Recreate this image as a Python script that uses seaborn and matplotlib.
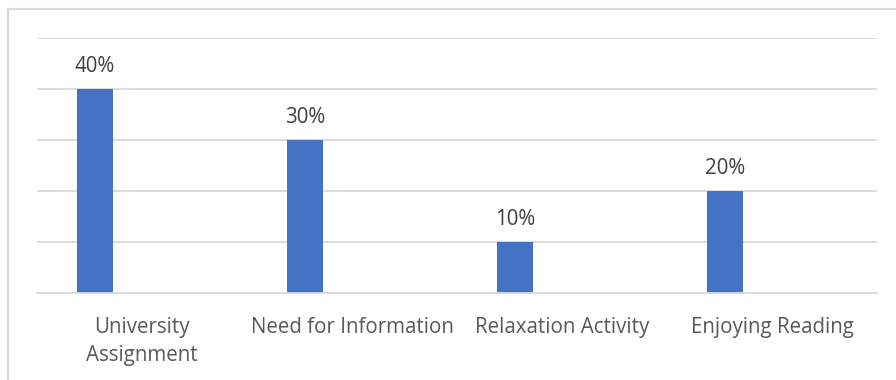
import matplotlib
matplotlib.use("Agg")
import matplotlib.pyplot as plt
import seaborn as sns
from matplotlib.patches import Rectangle
from matplotlib.ticker import MultipleLocator

categories = ["University Assignment", "Need for Information", "Relaxation Activity", "Enjoying Reading"]
tick_labels = ["University\nAssignment", "Need for Information", "Relaxation Activity", "Enjoying Reading"]
values = [0.40, 0.30, 0.10, 0.20]
value_labels = ["40%", "30%", "10%", "20%"]

sns.set_theme(style="white")
plt.rcParams["font.family"] = ["Open Sans", "DejaVu Sans"]

fig = plt.figure(figsize=(8.96, 3.8), dpi=100)
ax = fig.add_axes([37/896, 1 - 293/380, 840/896, 255/380])

sns.barplot(x=categories, y=values, color="#4472C4", width=0.171, saturation=1, ax=ax)
for p in ax.patches:
    p.set_x(p.get_x() - 0.224)
    p.set_linewidth(0)

ax.set_xlim(-0.5, 3.5)
ax.set_ylim(0, 0.5)
ax.yaxis.set_major_locator(MultipleLocator(0.1))
ax.grid(axis="y", color="#d9d9d9", linewidth=1.3)
ax.set_axisbelow(True)
for s in ["top", "right", "left"]:
    ax.spines[s].set_visible(False)
ax.spines["bottom"].set_color("#d9d9d9")
ax.spines["bottom"].set_linewidth(1.3)
ax.set_yticklabels([])
ax.tick_params(axis="y", length=0)
ax.tick_params(axis="x", length=0, pad=17, labelsize=14.8, labelcolor="#595959")
ax.set_xticks(range(len(categories)))
ax.set_xticklabels(tick_labels, linespacing=1.45)
ax.set_xlabel("")
ax.set_ylabel("")

ax.bar_label(ax.containers[0], labels=value_labels, padding=8.5, fontsize=14.8, color="#404040")

fig.patches.append(Rectangle((8/896, -0.1), 1.2, 1 - 9/380 + 0.1, transform=fig.transFigure,
                             fill=False, edgecolor="#d9d9d9", linewidth=1.5))

fig.savefig("out.png", dpi=100)
